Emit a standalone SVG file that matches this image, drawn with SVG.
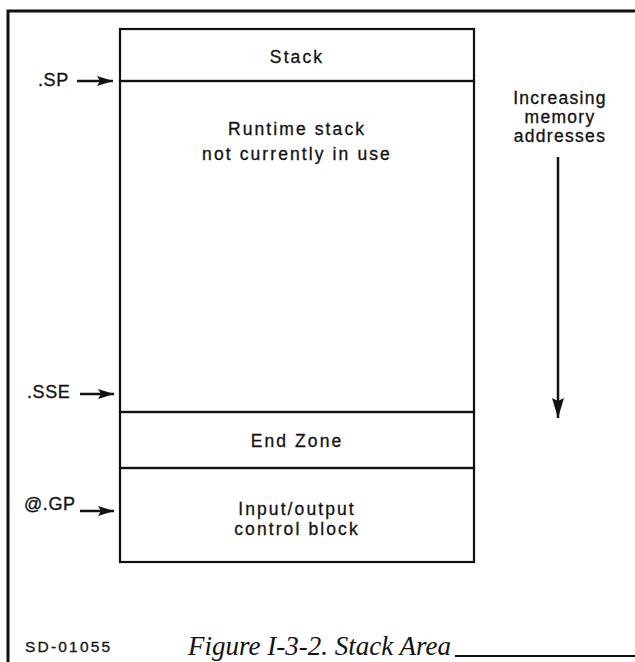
<svg xmlns="http://www.w3.org/2000/svg" width="635" height="662" viewBox="0 0 635 662">
<defs>
<style>
.t{font-family:"Liberation Sans",Arial,sans-serif;font-size:17.5px;fill:#111;stroke:#111;stroke-width:0.3px;letter-spacing:2.1px;text-anchor:middle}
.l{font-family:"Liberation Sans",Arial,sans-serif;font-size:18px;fill:#111;stroke:#111;stroke-width:0.3px;letter-spacing:0.6px}
.cap{font-family:"Liberation Serif","Times New Roman",serif;font-style:italic;font-size:27px;fill:#111}
.ln{stroke:#111;stroke-width:2.2;fill:none}
.fr{stroke:#111;stroke-width:3;fill:none}
.ar{stroke:#111;stroke-width:2.5;fill:none}
</style>
<marker id="ah" viewBox="0 0 16 10" refX="16" refY="5" markerWidth="16" markerHeight="10" markerUnits="userSpaceOnUse" orient="auto">
<path d="M0,0 L16,5 L0,10 L3,5 Z" fill="#111"/>
</marker>
<marker id="ahd" viewBox="0 0 12 20" refX="6" refY="20" markerWidth="12" markerHeight="20" markerUnits="userSpaceOnUse" orient="0">
<path d="M0,0 L6,20 L12,0 L6,3 Z" fill="#111"/>
</marker>
</defs>
<rect width="635" height="662" fill="#fff"/>
<g id="frame">
<path class="fr" d="M8,662 V11 H635"/>
<path class="ln" d="M455,656 H635"/>
</g>
<g id="stack">
<rect class="ln" x="120" y="29" width="354" height="52"/>
<text class="t" x="297" y="63">Stack</text>
</g>
<g id="runtime">
<rect class="ln" x="120" y="81" width="354" height="331"/>
<text class="t" x="297" y="135">Runtime stack</text>
<text class="t" x="297" y="160">not currently in use</text>
</g>
<g id="endzone">
<rect class="ln" x="120" y="412" width="354" height="56"/>
<text class="t" x="297" y="447">End Zone</text>
</g>
<g id="iocb">
<rect class="ln" x="120" y="468" width="354" height="94"/>
<text class="t" x="297" y="515">Input/output</text>
<text class="t" x="297" y="535">control block</text>
</g>
<g id="labels">
<text class="l" x="38" y="86">.SP</text>
<text class="l" x="27" y="398">.SSE</text>
<text class="l" x="24" y="510">@.GP</text>
<text class="t" x="560" y="104" style="letter-spacing:1.3px">Increasing</text>
<text class="t" x="560" y="123" style="letter-spacing:1.3px">memory</text>
<text class="t" x="560" y="142" style="letter-spacing:1.3px">addresses</text>
<text class="l" x="25" y="652" style="font-size:15.5px;letter-spacing:2.2px">SD-01055</text>
<text class="cap" x="188" y="655">Figure I-3-2. Stack Area</text>
</g>
<g id="connectors">
<line class="ar" x1="77" y1="81" x2="113" y2="81" marker-end="url(#ah)"/>
<line class="ar" x1="80" y1="394" x2="114" y2="394" marker-end="url(#ah)"/>
<line class="ar" x1="80" y1="511" x2="114" y2="511" marker-end="url(#ah)"/>
<line class="ar" x1="558" y1="157" x2="558" y2="418" marker-end="url(#ahd)"/>
</g>
</svg>
